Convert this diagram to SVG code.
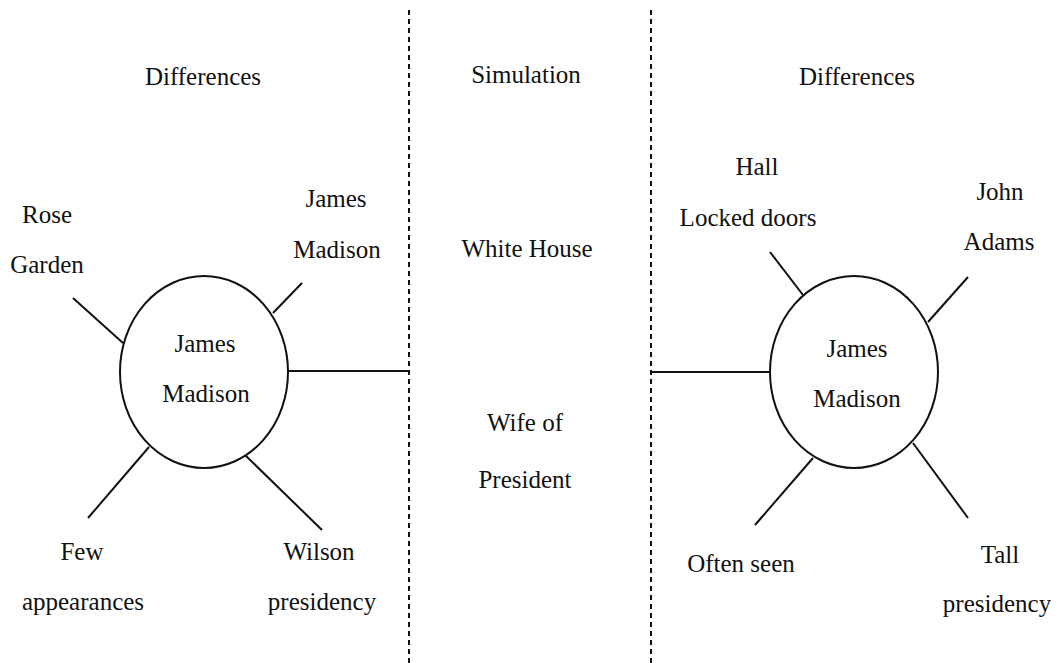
<svg xmlns="http://www.w3.org/2000/svg" width="1062" height="663" viewBox="0 0 1062 663">
<style>
text{font-size:25px;fill:#111;text-anchor:middle}
.ln{stroke:#111;stroke-width:2;fill:none}
.dash{stroke:#111;stroke-width:2;stroke-dasharray:5 4;fill:none}
.node{fill:#fff;stroke:#111;stroke-width:2}
</style>
<rect width="1062" height="663" fill="#fff"/>
<g id="dividers">
<line class="dash" x1="409" y1="10" x2="409" y2="663"/>
<line class="dash" x1="651" y1="10" x2="651" y2="663"/>
</g>
<g id="connectors">
<line class="ln" x1="288" y1="371" x2="409" y2="371"/>
<line class="ln" x1="73" y1="298" x2="123" y2="343"/>
<line class="ln" x1="273" y1="313" x2="302" y2="283"/>
<line class="ln" x1="149" y1="447" x2="88" y2="518"/>
<line class="ln" x1="245" y1="455" x2="322" y2="530"/>
<line class="ln" x1="651" y1="372" x2="770" y2="372"/>
<line class="ln" x1="770" y1="252" x2="803" y2="295"/>
<line class="ln" x1="928" y1="322" x2="968" y2="277"/>
<line class="ln" x1="813" y1="458" x2="755" y2="525"/>
<line class="ln" x1="913" y1="443" x2="968" y2="518"/>
</g>
<g font-family="Liberation Serif, DejaVu Serif, serif">
<g id="headings">
<text x="203" y="85">Differences</text>
<text x="526" y="83">Simulation</text>
<text x="857" y="85">Differences</text>
</g>
<g id="center-left">
<ellipse class="node" cx="204" cy="372" rx="84" ry="96"/>
<text x="205" y="352">James</text>
<text x="206" y="402">Madison</text>
</g>
<g id="center-right">
<ellipse class="node" cx="854" cy="372" rx="84" ry="96"/>
<text x="857" y="357">James</text>
<text x="857" y="407">Madison</text>
</g>
<g id="rose-garden"><text x="47" y="223">Rose</text><text x="47" y="273">Garden</text></g>
<g id="james-madison"><text x="336" y="207">James</text><text x="337" y="258">Madison</text></g>
<g id="few-appearances"><text x="82" y="560">Few</text><text x="83" y="610">appearances</text></g>
<g id="wilson-presidency"><text x="319" y="560">Wilson</text><text x="322" y="610">presidency</text></g>
<g id="white-house"><text x="527" y="257">White House</text></g>
<g id="wife-of-president"><text x="525" y="431">Wife of</text><text x="525" y="488">President</text></g>
<g id="hall-locked-doors"><text x="757" y="175">Hall</text><text x="748" y="226">Locked doors</text></g>
<g id="john-adams"><text x="1000" y="200">John</text><text x="999" y="250">Adams</text></g>
<g id="often-seen"><text x="741" y="572">Often seen</text></g>
<g id="tall-presidency"><text x="1000" y="563">Tall</text><text x="997" y="612">presidency</text></g>
</g>
</svg>
